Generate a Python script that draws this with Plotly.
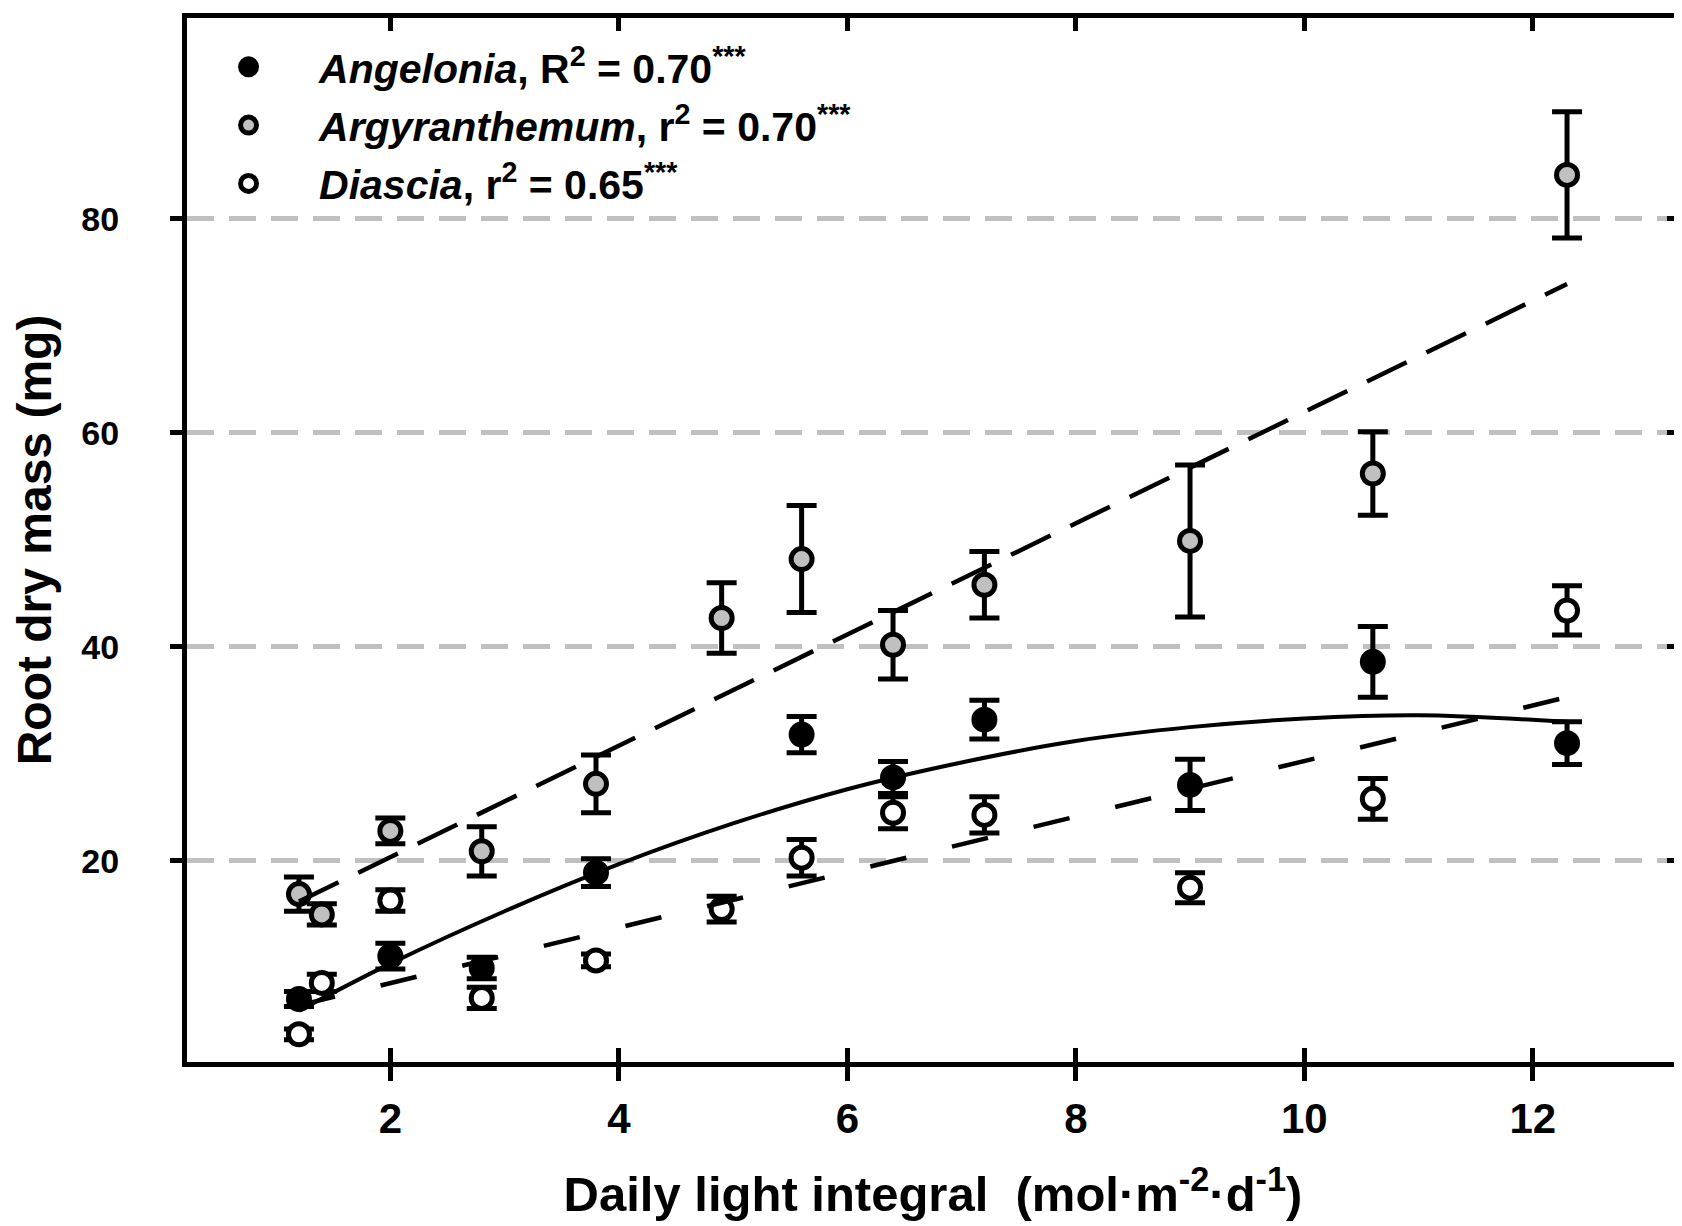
import plotly.graph_objects as go

# ---- data ----
dli = [1.2, 1.4, 2.0, 2.8, 3.8, 4.9, 5.6, 6.4, 7.2, 9.0, 10.6, 12.3]

ang_x = [1.2, 2.0, 2.8, 3.8, 5.6, 6.4, 7.2, 9.0, 10.6, 12.3]
ang_y = [7.1, 11.1, 10.0, 18.9, 31.8, 27.8, 33.2, 27.1, 38.6, 31.0]
ang_e = [0.7, 1.2, 1.0, 1.3, 1.7, 1.5, 1.8, 2.4, 3.3, 2.0]

arg_x = dli
arg_y = [16.9, 15.0, 22.8, 20.9, 27.2, 42.7, 48.2, 40.2, 45.8, 49.9, 56.2, 84.1]
arg_e = [1.6, 1.0, 1.2, 2.3, 2.7, 3.3, 5.0, 3.2, 3.1, 7.1, 3.9, 5.9]

dia_x = dli
dia_y = [3.8, 8.6, 16.3, 7.2, 10.7, 15.5, 20.3, 24.5, 24.3, 17.5, 25.8, 43.4]
dia_e = [0.5, 0.8, 1.0, 1.0, 0.6, 1.2, 1.7, 1.5, 1.7, 1.4, 1.9, 2.3]

# fitted curves as drawn in the reference
ang_fit_x = [1.2, 2.0, 3.0, 4.0, 5.0, 6.0, 7.0, 8.0, 9.0, 10.0, 11.0, 12.3]
ang_fit_y = [6.0, 10.4, 15.3, 19.7, 23.5, 26.7, 29.2, 31.2, 32.5, 33.3, 33.6, 33.0]
arg_fit_x = [1.2, 12.3]
arg_fit_y = [16.2, 73.9]
dia_fit_x = [1.2, 12.3]
dia_fit_y = [6.5, 35.3]

names = [
    "<i>Angelonia</i>, R<sup>2</sup> = 0.70<sup>***</sup>",
    "<i>Argyranthemum</i>, r<sup>2</sup> = 0.70<sup>***</sup>",
    "<i>Diascia</i>, r<sup>2</sup> = 0.65<sup>***</sup>",
]
fills = ["#000000", "#c0c0c0", "#ffffff"]

xticks = [2, 4, 6, 8, 10, 12]
yticks = [20, 40, 60, 80]
xrange_ = [0.22, 13.28]
yrange_ = [1.21, 98.76]

FONT = "Liberation Sans, Arial, sans-serif"

fig = go.Figure()

for i, (xs, ys, es, nm, fc) in enumerate([(ang_x, ang_y, ang_e, names[0], fills[0]),
                                          (arg_x, arg_y, arg_e, names[1], fills[1]),
                                          (dia_x, dia_y, dia_e, names[2], fills[2])]):
    fig.add_trace(go.Scatter(
        x=xs, y=ys, mode="markers", name=nm, legendgroup=f"g{i}",
        error_y=dict(type="data", array=es, visible=True, color="black",
                     thickness=5, width=15),
        marker=dict(size=21, color=fc, line=dict(color="black", width=5)),
    ))

fig.add_trace(go.Scatter(x=ang_fit_x, y=ang_fit_y, mode="lines", showlegend=False,
                         line=dict(color="black", width=4, shape="spline")))
fig.add_trace(go.Scatter(x=arg_fit_x, y=arg_fit_y, mode="lines", showlegend=False,
                         xaxis="x2", yaxis="y",
                         line=dict(color="black", width=4.5, dash="44px,22px")))
fig.add_trace(go.Scatter(x=dia_fit_x, y=dia_fit_y, mode="lines", showlegend=False,
                         xaxis="x3", yaxis="y2",
                         line=dict(color="black", width=4.5, dash="37px,47px")))

fig.update_layout(
    width=1682, height=1226,
    margin=dict(l=178.5, r=10.5, t=10, b=171.5),
    paper_bgcolor="white", plot_bgcolor="white",
    font=dict(family=FONT, color="black"),
    showlegend=True,
    legend=dict(x=-0.006, y=0.985, xanchor="left", yanchor="top",
                bgcolor="rgba(0,0,0,0)", itemwidth=131, tracegroupgap=2,
                font=dict(size=41, family=FONT, weight="bold")),
    xaxis=dict(range=xrange_, tickvals=xticks, ticks="outside", ticklen=14,
               tickwidth=5, tickcolor="black", showline=True, linewidth=5,
               linecolor="black", showgrid=False, zeroline=False,
               tickfont=dict(size=42, family=FONT, weight="bold"),
               ticklabelstandoff=2,
               title=dict(text="Daily light integral  (mol·m<sup>-2</sup>·d<sup>-1</sup>)",
                          font=dict(size=49, family=FONT, weight="bold"),
                          standoff=37)),
    xaxis2=dict(range=xrange_, tickvals=xticks, overlaying="x", anchor="y",
                side="bottom", ticks="inside", ticklen=14, tickwidth=5,
                tickcolor="black", showline=False, showgrid=False,
                zeroline=False, showticklabels=False),
    xaxis3=dict(range=xrange_, tickvals=xticks, overlaying="x", anchor="y2",
                side="top", ticks="inside", ticklen=13, tickwidth=5,
                tickcolor="black", showline=True, linewidth=5, linecolor="black",
                showgrid=False, zeroline=False, showticklabels=False),
    yaxis=dict(range=yrange_, tickvals=yticks, ticks="outside", ticklen=12,
               tickwidth=5, tickcolor="black", showline=True, linewidth=5,
               linecolor="black", showgrid=True, gridcolor="#c0c0c0",
               gridwidth=4.5, griddash="27px,15px", zeroline=False,
               tickfont=dict(size=34, family=FONT, weight="bold"),
               ticklabelstandoff=44,
               title=dict(text="Root dry mass (mg)",
                          font=dict(size=48, family=FONT, weight="bold"),
                          standoff=20)),
    yaxis2=dict(range=yrange_, tickvals=yticks, overlaying="y", anchor="x3",
                side="right", ticks="inside", ticklen=12, tickwidth=5,
                tickcolor="black", showline=True, linewidth=5, linecolor="black",
                showgrid=False, zeroline=False, showticklabels=False),
)

fig.write_html("out.html")
